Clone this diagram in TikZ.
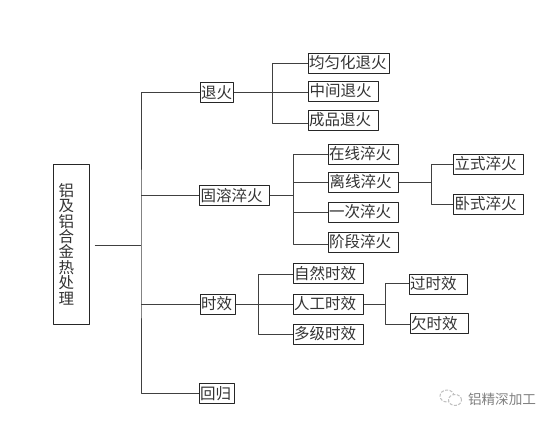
\documentclass[tikz,border=0pt]{standalone}
\usepackage{fontspec}
\setmainfont{Noto Sans CJK SC}
\tikzset{
	box/.style={draw=black!85, line width=1pt, fill=white, text=black!80, inner xsep=1pt, inner ysep=0pt, minimum height=20pt, text width=68pt, align=left, font=\fontsize{15.5}{16}\selectfont},
	link/.style={draw=black!75, line width=1pt},
}
\begin{document}
\begin{tikzpicture}[x=1pt, y=-1pt, line join=round]
	\useasboundingbox (0,0) rectangle (549,423);
	% spines
	\coordinate (j0) at (141,245);
	\coordinate (a1) at (272,63);	\coordinate (a2) at (272,123);
	\coordinate (b1) at (293,154);	\coordinate (b2) at (293,244);
	\coordinate (c1) at (258,274);	\coordinate (c2) at (258,334);
	\coordinate (d1) at (431,164);	\coordinate (d2) at (431,204);
	\coordinate (e1) at (385,283);	\coordinate (e2) at (385,324);
	% root
	\node[box, minimum height=160pt, inner xsep=5.5pt, text width=25pt, font=\fontsize{15.5}{15.4}\selectfont] (root) at (71,244) {铝\\及\\铝\\合\\金\\热\\处\\理};
	% first level
	\node[box, text width=31pt] (tuihuo) at (216.5,92.5) {退火};
	\node[box] (gurong) at (234.5,195.5) {固溶淬火};
	\node[box, text width=33pt] (shixiao) at (217.5,304) {时效};
	\node[box, text width=33pt] (huigui) at (216.5,393.5) {回归};
	% second level
	\node[box, text width=79pt] (junyun) at (348.5,63) {均匀化退火};
	\node[box] (zhongjian) at (343.5,91) {中间退火};
	\node[box] (chengpin) at (343,120) {成品退火};
	\node[box] (zaixian) at (363,154) {在线淬火};
	\node[box] (lixian) at (363.5,182) {离线淬火};
	\node[box] (yici) at (363,212) {一次淬火};
	\node[box] (jieduan) at (363,242) {阶段淬火};
	\node[box] (ziran) at (328,273.5) {自然时效};
	\node[box] (rengong) at (328,304) {人工时效};
	\node[box] (duoji) at (328,334) {多级时效};
	% third level
	\node[box] (lishi) at (488.5,164) {立式淬火};
	\node[box] (woshi) at (488.5,204) {卧式淬火};
	\node[box, text width=56pt] (guo) at (438,284) {过时效};
	\node[box, text width=56pt] (qian) at (439,323.5) {欠时效};
	% links
	\draw[link, shorten <=5pt] (root.east |- j0) -- (j0);
	\draw[link] (tuihuo.west) -| (j0) |- (huigui.west);
	\foreach \n in {gurong,shixiao}
		\draw[link] (\n.west -| j0) -- (\n.west);
	\draw[link] (a1 -| junyun.west) -- (a1) -- (a2) -- (a2 -| chengpin.west);
	\draw[link] (tuihuo.east) -- (tuihuo.east -| zhongjian.west);
	\draw[link] (b1 -| zaixian.west) -- (b1) -- (b2) -- (b2 -| jieduan.west);
	\draw[link] (gurong.east) -- (gurong.east -| b1);
	\draw[link] (lixian.west -| b1) -- (lixian.west);
	\draw[link] (yici.west -| b1) -- (yici.west);
	\draw[link] (c1 -| ziran.west) -- (c1) -- (c2) -- (c2 -| duoji.west);
	\draw[link] (shixiao.east) -- (rengong.west);
	\draw[link] (lixian.east) -- (lixian.east -| d1);
	\draw[link] (d1 -| lishi.west) -- (d1) -- (d2) -- (d2 -| woshi.west);
	\draw[link] (rengong.east) -- (rengong.east -| e1);
	\draw[link] (e1 -| guo.west) -- (e1) -- (e2) -- (e2 -| qian.west);
	% watermark
	\draw[black!25, line width=1pt, dash pattern=on 3pt off 1.5pt] (447,396) ellipse (7pt and 6pt);
	\draw[black!25, fill=white, line width=1pt, dash pattern=on 3pt off 1.5pt] (455,400) ellipse (6.5pt and 5.5pt);
	\node[text=black!50, inner sep=0pt, font=\fontsize{13.6}{14}\selectfont] (mark) at (502,399) {铝精深加工};
\end{tikzpicture}
\end{document}
